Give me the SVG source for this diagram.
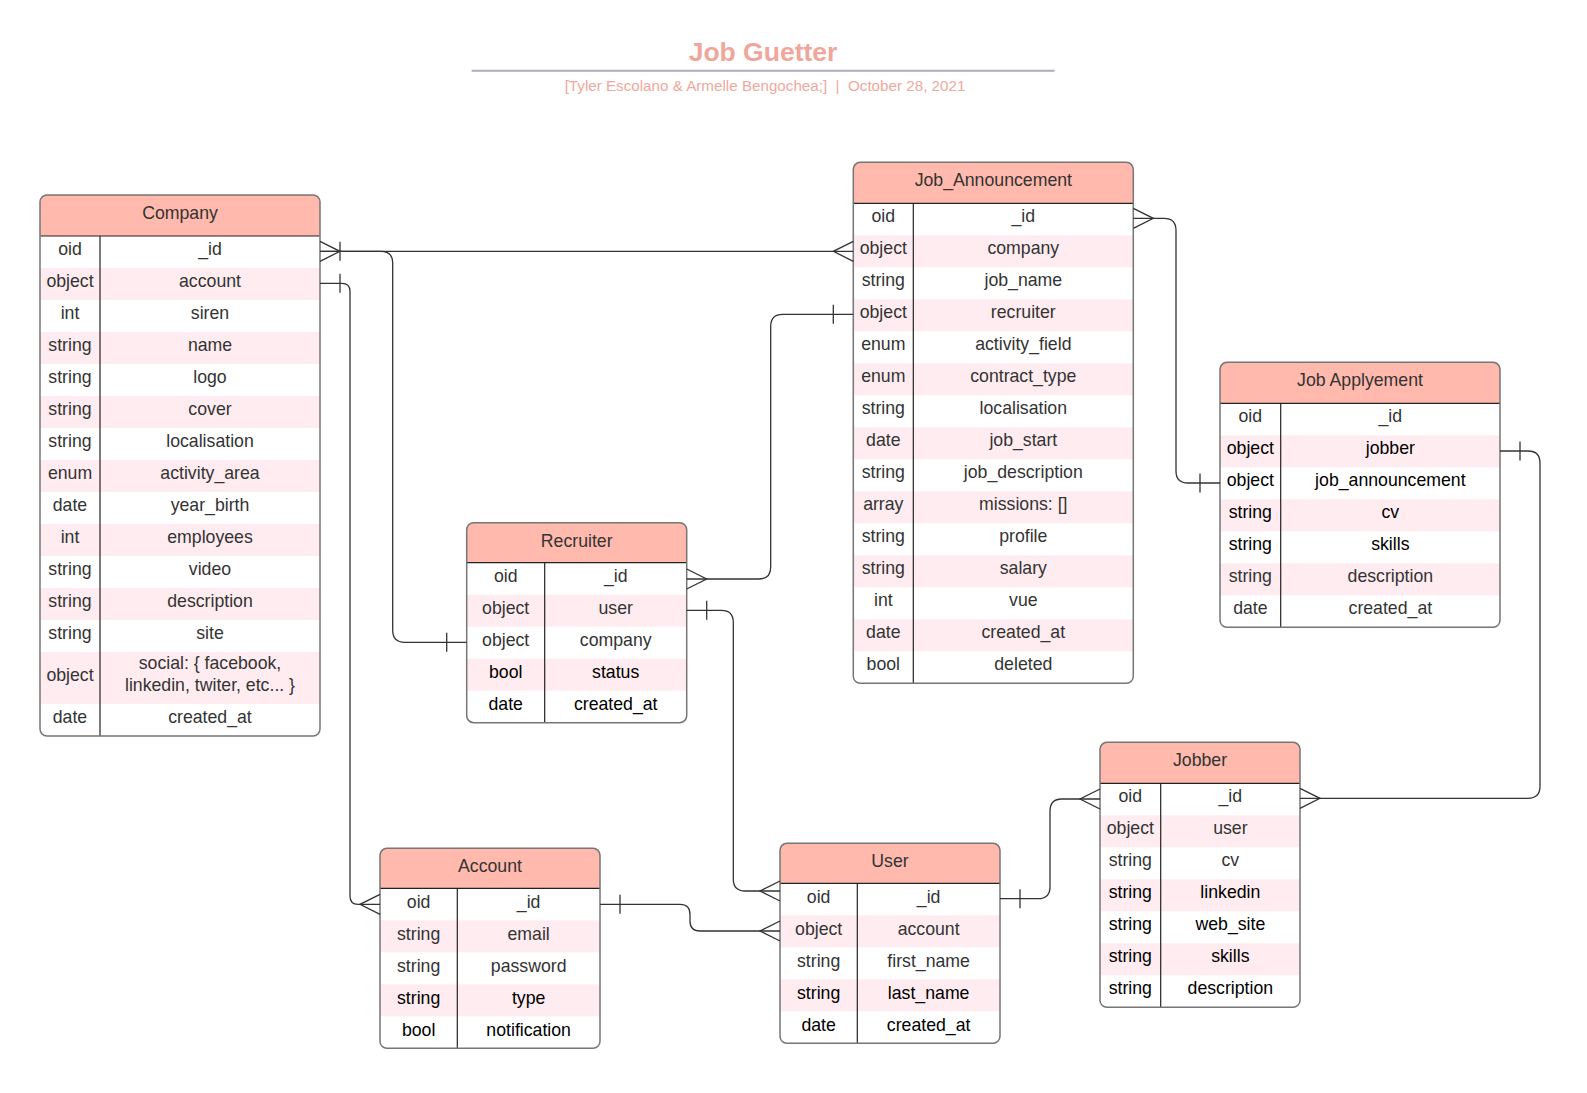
<svg xmlns="http://www.w3.org/2000/svg" width="1587" height="1093" viewBox="0 0 1587 1093">
<style>
text{font-family:"Liberation Sans",Arial,sans-serif;font-size:17.7px;fill:#333;text-anchor:middle}
.k{fill:#000}
.hd{fill:#FFB9AD}
.pk{fill:#FFECF0}
.bg{fill:#fff}
.bx{fill:none;stroke:#767676;stroke-width:1.5}
.ln{stroke:#222;stroke-width:1.2}
.cn{fill:none;stroke:#333;stroke-width:1.3;marker-start:url(#one);marker-end:url(#many)}
.title{font-size:26.5px;font-weight:bold;fill:#EFA69B}
.sub{font-size:15.2px;fill:#F0A89E}
</style>
<defs>
<marker id="many" markerUnits="userSpaceOnUse" viewBox="-25 -15 30 30" markerWidth="30" markerHeight="30" refX="0" refY="0" orient="auto-start-reverse" overflow="visible"><path d="M0,-10 L-20,0 L0,10" fill="none" stroke="#333" stroke-width="1.3"/></marker>
<marker id="one" markerUnits="userSpaceOnUse" viewBox="-25 -15 30 30" markerWidth="30" markerHeight="30" refX="0" refY="0" orient="auto-start-reverse" overflow="visible"><path d="M-20,-9.5 V9.5" fill="none" stroke="#333" stroke-width="1.3"/></marker>
</defs>
<rect width="1587" height="1093" fill="#fff"/>
<g id="title">
<text class="title" x="763" y="60.5">Job Guetter</text>
<line x1="471.6" y1="70.7" x2="1054.6" y2="70.7" stroke="#A9ADBA" stroke-width="2"/>
<text class="sub" x="765" y="91">[Tyler Escolano &amp; Armelle Bengochea;]&#160;&#160;|&#160;&#160;October 28, 2021</text>
</g>

<g id="company" transform="translate(40,195)">
<rect class="bg" width="280" height="541" rx="7"/>
<path class="hd" d="M0,41 V7 A7,7 0 0 1 7,0 H273 A7,7 0 0 1 280,7 V41 Z"/>
<rect class="pk" y="73" width="280" height="32"/><rect class="pk" y="137" width="280" height="32"/><rect class="pk" y="201" width="280" height="32"/><rect class="pk" y="265" width="280" height="32"/><rect class="pk" y="329" width="280" height="32"/><rect class="pk" y="393" width="280" height="32"/><rect class="pk" y="457" width="280" height="52"/>
<line class="ln" x1="0" y1="41" x2="280" y2="41"/><line class="ln" x1="60" y1="41" x2="60" y2="541"/>
<rect class="bx" width="280" height="541" rx="7"/>
<text x="140" y="23.5">Company</text>
<text x="30" y="59.5">oid</text><text x="170" y="59.5">_id</text>
<text x="30" y="91.5">object</text><text x="170" y="91.5">account</text>
<text x="30" y="123.5">int</text><text x="170" y="123.5">siren</text>
<text x="30" y="155.5">string</text><text x="170" y="155.5">name</text>
<text x="30" y="187.5">string</text><text x="170" y="187.5">logo</text>
<text x="30" y="219.5">string</text><text x="170" y="219.5">cover</text>
<text x="30" y="251.5">string</text><text x="170" y="251.5">localisation</text>
<text x="30" y="283.5">enum</text><text x="170" y="283.5">activity_area</text>
<text x="30" y="315.5">date</text><text x="170" y="315.5">year_birth</text>
<text x="30" y="347.5">int</text><text x="170" y="347.5">employees</text>
<text x="30" y="379.5">string</text><text x="170" y="379.5">video</text>
<text x="30" y="411.5">string</text><text x="170" y="411.5">description</text>
<text x="30" y="443.5">string</text><text x="170" y="443.5">site</text>
<text x="30" y="485.5">object</text><text x="170" y="474">social: { facebook,</text><text x="170" y="495.5">linkedin, twiter, etc... }</text>
<text x="30" y="527.5">date</text><text x="170" y="527.5">created_at</text>
</g>

<g id="recruiter" transform="translate(466.7,522.7)">
<rect class="bg" width="220" height="200" rx="7"/>
<path class="hd" d="M0,40 V7 A7,7 0 0 1 7,0 H213 A7,7 0 0 1 220,7 V40 Z"/>
<rect class="pk" y="72" width="220" height="32"/><rect class="pk" y="136" width="220" height="32"/>
<line class="ln" x1="0" y1="40" x2="220" y2="40"/><line class="ln" x1="78" y1="40" x2="78" y2="200"/>
<rect class="bx" width="220" height="200" rx="7"/>
<text x="110" y="24">Recruiter</text>
<text x="39" y="59.8">oid</text><text x="149" y="59.8">_id</text>
<text x="39" y="91.8">object</text><text x="149" y="91.8">user</text>
<text x="39" y="123.8">object</text><text x="149" y="123.8">company</text>
<text class="k" x="39" y="155.8">bool</text><text class="k" x="149" y="155.8">status</text>
<text class="k" x="39" y="187.8">date</text><text class="k" x="149" y="187.8">created_at</text>
</g>

<g id="job_announcement" transform="translate(853.3,162.3)">
<rect class="bg" width="280" height="521" rx="7"/>
<path class="hd" d="M0,41 V7 A7,7 0 0 1 7,0 H273 A7,7 0 0 1 280,7 V41 Z"/>
<rect class="pk" y="73" width="280" height="32"/><rect class="pk" y="137" width="280" height="32"/><rect class="pk" y="201" width="280" height="32"/><rect class="pk" y="265" width="280" height="32"/><rect class="pk" y="329" width="280" height="32"/><rect class="pk" y="393" width="280" height="32"/><rect class="pk" y="457" width="280" height="32"/>
<line class="ln" x1="0" y1="41" x2="280" y2="41"/><line class="ln" x1="60" y1="41" x2="60" y2="521"/>
<rect class="bx" width="280" height="521" rx="7"/>
<text x="140" y="23.5">Job_Announcement</text>
<text x="30" y="59.5">oid</text><text x="170" y="59.5">_id</text>
<text x="30" y="91.5">object</text><text x="170" y="91.5">company</text>
<text x="30" y="123.5">string</text><text x="170" y="123.5">job_name</text>
<text x="30" y="155.5">object</text><text x="170" y="155.5">recruiter</text>
<text x="30" y="187.5">enum</text><text x="170" y="187.5">activity_field</text>
<text x="30" y="219.5">enum</text><text x="170" y="219.5">contract_type</text>
<text x="30" y="251.5">string</text><text x="170" y="251.5">localisation</text>
<text x="30" y="283.5">date</text><text x="170" y="283.5">job_start</text>
<text x="30" y="315.5">string</text><text x="170" y="315.5">job_description</text>
<text x="30" y="347.5">array</text><text x="170" y="347.5">missions: []</text>
<text x="30" y="379.5">string</text><text x="170" y="379.5">profile</text>
<text x="30" y="411.5">string</text><text x="170" y="411.5">salary</text>
<text x="30" y="443.5">int</text><text x="170" y="443.5">vue</text>
<text x="30" y="475.5">date</text><text x="170" y="475.5">created_at</text>
<text x="30" y="507.5">bool</text><text x="170" y="507.5">deleted</text>
</g>

<g id="job_applyement" transform="translate(1220,362.3)">
<rect class="bg" width="280" height="265" rx="7"/>
<path class="hd" d="M0,41 V7 A7,7 0 0 1 7,0 H273 A7,7 0 0 1 280,7 V41 Z"/>
<rect class="pk" y="73" width="280" height="32"/><rect class="pk" y="137" width="280" height="32"/><rect class="pk" y="201" width="280" height="32"/>
<line class="ln" x1="0" y1="41" x2="280" y2="41"/><line class="ln" x1="60.7" y1="41" x2="60.7" y2="265"/>
<rect class="bx" width="280" height="265" rx="7"/>
<text x="140" y="23.5">Job Applyement</text>
<text x="30.35" y="59.5">oid</text><text x="170.35" y="59.5">_id</text>
<text class="k" x="30.35" y="91.5">object</text><text class="k" x="170.35" y="91.5">jobber</text>
<text class="k" x="30.35" y="123.5">object</text><text class="k" x="170.35" y="123.5">job_announcement</text>
<text class="k" x="30.35" y="155.5">string</text><text class="k" x="170.35" y="155.5">cv</text>
<text class="k" x="30.35" y="187.5">string</text><text class="k" x="170.35" y="187.5">skills</text>
<text x="30.35" y="219.5">string</text><text x="170.35" y="219.5">description</text>
<text x="30.35" y="251.5">date</text><text x="170.35" y="251.5">created_at</text>
</g>

<g id="jobber" transform="translate(1100,742.3)">
<rect class="bg" width="200" height="265" rx="7"/>
<path class="hd" d="M0,41 V7 A7,7 0 0 1 7,0 H193 A7,7 0 0 1 200,7 V41 Z"/>
<rect class="pk" y="73" width="200" height="32"/><rect class="pk" y="137" width="200" height="32"/><rect class="pk" y="201" width="200" height="32"/>
<line class="ln" x1="0" y1="41" x2="200" y2="41"/><line class="ln" x1="60.7" y1="41" x2="60.7" y2="265"/>
<rect class="bx" width="200" height="265" rx="7"/>
<text x="100" y="23.5">Jobber</text>
<text x="30.35" y="59.5">oid</text><text x="130.35" y="59.5">_id</text>
<text x="30.35" y="91.5">object</text><text x="130.35" y="91.5">user</text>
<text x="30.35" y="123.5">string</text><text x="130.35" y="123.5">cv</text>
<text class="k" x="30.35" y="155.5">string</text><text class="k" x="130.35" y="155.5">linkedin</text>
<text class="k" x="30.35" y="187.5">string</text><text class="k" x="130.35" y="187.5">web_site</text>
<text class="k" x="30.35" y="219.5">string</text><text class="k" x="130.35" y="219.5">skills</text>
<text class="k" x="30.35" y="251.5">string</text><text class="k" x="130.35" y="251.5">description</text>
</g>

<g id="account" transform="translate(380,848.3)">
<rect class="bg" width="220" height="200" rx="7"/>
<path class="hd" d="M0,40 V7 A7,7 0 0 1 7,0 H213 A7,7 0 0 1 220,7 V40 Z"/>
<rect class="pk" y="72" width="220" height="32"/><rect class="pk" y="136" width="220" height="32"/>
<line class="ln" x1="0" y1="40" x2="220" y2="40"/><line class="ln" x1="77.3" y1="40" x2="77.3" y2="200"/>
<rect class="bx" width="220" height="200" rx="7"/>
<text x="110" y="24">Account</text>
<text x="38.65" y="59.5">oid</text><text x="148.65" y="59.5">_id</text>
<text x="38.65" y="91.5">string</text><text x="148.65" y="91.5">email</text>
<text x="38.65" y="123.5">string</text><text x="148.65" y="123.5">password</text>
<text class="k" x="38.65" y="155.5">string</text><text class="k" x="148.65" y="155.5">type</text>
<text class="k" x="38.65" y="187.5">bool</text><text class="k" x="148.65" y="187.5">notification</text>
</g>

<g id="user" transform="translate(780,843.3)">
<rect class="bg" width="220" height="200" rx="7"/>
<path class="hd" d="M0,40 V7 A7,7 0 0 1 7,0 H213 A7,7 0 0 1 220,7 V40 Z"/>
<rect class="pk" y="72" width="220" height="32"/><rect class="pk" y="136" width="220" height="32"/>
<line class="ln" x1="0" y1="40" x2="220" y2="40"/><line class="ln" x1="77.3" y1="40" x2="77.3" y2="200"/>
<rect class="bx" width="220" height="200" rx="7"/>
<text x="110" y="24">User</text>
<text x="38.65" y="59.5">oid</text><text x="148.65" y="59.5">_id</text>
<text x="38.65" y="91.5">object</text><text x="148.65" y="91.5">account</text>
<text x="38.65" y="123.5">string</text><text x="148.65" y="123.5">first_name</text>
<text class="k" x="38.65" y="155.5">string</text><text class="k" x="148.65" y="155.5">last_name</text>
<text class="k" x="38.65" y="187.5">date</text><text class="k" x="148.65" y="187.5">created_at</text>
</g>

<g id="connectors">
<path class="cn" d="M320,251.3 H853.3"/>
<path class="cn" d="M466.7,642.3 H404.7 Q392.7,642.3 392.7,630.3 V263.3 Q392.7,251.3 380.7,251.3 H320"/>
<path class="cn" d="M320,283.3 H342 Q350,283.3 350,291.3 V896 Q350,904.3 358,904.3 H380"/>
<path class="cn" d="M853.3,314.3 H782.7 Q770.7,314.3 770.7,326.3 V567 Q770.7,579 758.7,579 H686.7"/>
<path class="cn" d="M1220,483 H1188 Q1176,483 1176,471 V230.3 Q1176,218.3 1164,218.3 H1133.3"/>
<path class="cn" d="M1500,451 H1528 Q1540,451 1540,463 V786.3 Q1540,798.3 1528,798.3 H1300"/>
<path class="cn" d="M1000,898.7 H1038 Q1050,898.7 1050,886.7 V811 Q1050,799 1062,799 H1100"/>
<path class="cn" d="M686.7,610.3 H721.3 Q733.3,610.3 733.3,622.3 V879 Q733.3,891 745.3,891 H780"/>
<path class="cn" d="M600,904.3 H680 Q690,904.3 690,914.3 V921 Q690,931 700,931 H780"/>
</g>
</svg>
